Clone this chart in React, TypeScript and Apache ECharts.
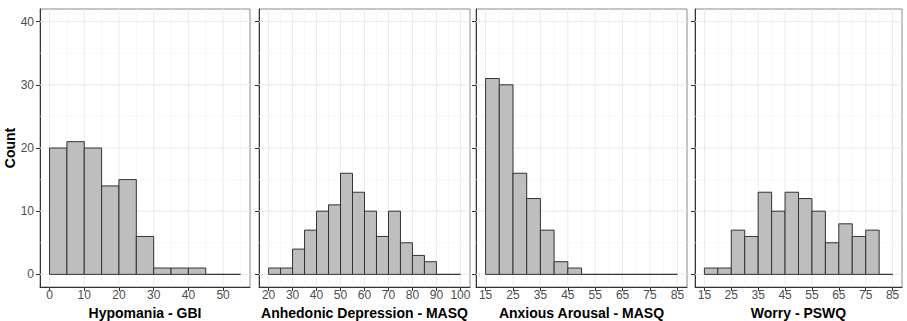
import React, { useEffect, useRef } from "react";
import * as echarts from "echarts";

// Histogram bin counts (bin width 5)
const binWidth = 5;
const hypoStart = 0;
const hypoCounts = [20, 21, 20, 14, 15, 6, 1, 1, 1, 0, 0];
const anhedStart = 20;
const anhedCounts = [1, 1, 4, 7, 10, 11, 16, 13, 10, 6, 10, 5, 3, 2, 0, 0];
const anxStart = 15;
const anxCounts = [31, 30, 16, 12, 7, 2, 1, 0, 0, 0, 0, 0, 0, 0];
const worryStart = 15;
const worryCounts = [1, 1, 7, 6, 13, 10, 13, 12, 10, 5, 8, 6, 7, 0];

// Tick labels
const countTicks = [0, 10, 20, 30, 40];
const hypoTicks = [0, 10, 20, 30, 40, 50];
const anhedTicks = [20, 30, 40, 50, 60, 70, 80, 90, 100];
const anxTicks = [15, 25, 35, 45, 55, 65, 75, 85];
const worryTicks = [15, 25, 35, 45, 55, 65, 75, 85];

const titles = [
  "Hypomania - GBI",
  "Anhedonic Depression - MASQ",
  "Anxious Arousal - MASQ",
  "Worry - PSWQ",
];

const panels = [
  { start: hypoStart, counts: hypoCounts, ticks: hypoTicks },
  { start: anhedStart, counts: anhedCounts, ticks: anhedTicks },
  { start: anxStart, counts: anxCounts, ticks: anxTicks },
  { start: worryStart, counts: worryCounts, ticks: worryTicks },
];

const gridBoxes = [
  { left: 40, width: 210 },
  { left: 259, width: 211 },
  { left: 476, width: 211 },
  { left: 695, width: 207 },
];

const FONT = "'Liberation Sans', Arial, sans-serif";

export default function App() {
  const ref = useRef<HTMLDivElement>(null);
  useEffect(() => {
    if (!ref.current) return;
    const chart = echarts.init(ref.current, null, { renderer: "svg" });

    const yLo = countTicks[0];
    const yHi = countTicks[countTicks.length - 1];
    const yPad = (yHi - yLo) * 0.05;
    const yMin = yLo - yPad;
    const yMax = yHi + yPad;

    const grids: any[] = [];
    const xAxes: any[] = [];
    const yAxes: any[] = [];
    const series: any[] = [];

    panels.forEach((p, i) => {
      const xLo = Math.min(p.start, p.ticks[0]);
      const xHi = Math.max(p.start + p.counts.length * binWidth, p.ticks[p.ticks.length - 1]);
      const xPad = (xHi - xLo) * 0.05;
      const xMin = xLo - xPad;
      const xMax = xHi + xPad;

      grids.push({
        left: gridBoxes[i].left,
        width: gridBoxes[i].width,
        top: 9,
        height: 278,
        show: true,
        borderColor: "#8a8a8a",
        borderWidth: 1,
        backgroundColor: "#fff",
        containLabel: false,
        outerBoundsMode: "none",
      });

      xAxes.push({
        gridIndex: i,
        type: "value",
        min: xMin,
        max: xMax,
        name: titles[i],
        nameLocation: "middle",
        nameGap: 12,
        nameTextStyle: { fontFamily: FONT, fontSize: 14, fontWeight: "bold", color: "#000" },
        axisLine: { show: true, onZero: false, lineStyle: { color: "#333", width: 1 } },
        axisTick: { show: true, length: 4, customValues: p.ticks, lineStyle: { color: "#333" } },
        axisLabel: {
          show: true,
          customValues: p.ticks,
          margin: 2,
          fontFamily: FONT,
          fontSize: 12,
          color: "#4d4d4d",
        },
        splitLine: { show: false },
      });

      yAxes.push({
        gridIndex: i,
        type: "value",
        min: yMin,
        max: yMax,
        name: i === 0 ? "Count" : "",
        nameLocation: "middle",
        nameGap: 14,
        nameTextStyle: { fontFamily: FONT, fontSize: 14, fontWeight: "bold", color: "#000" },
        axisLine: { show: true, onZero: false, lineStyle: { color: "#333", width: 1 } },
        axisTick: { show: true, length: 4, customValues: countTicks, lineStyle: { color: "#333" } },
        axisLabel: {
          show: i === 0,
          customValues: countTicks,
          margin: 6,
          fontFamily: FONT,
          fontSize: 12,
          color: "#4d4d4d",
        },
        splitLine: { show: false },
      });

      // grid lines: [value, kind(0=x,1=y), minor]
      const gl: number[][] = [];
      const xStep = p.ticks[1] - p.ticks[0];
      p.ticks.forEach((t) => gl.push([t, 0, 0]));
      for (let t = p.ticks[0] - xStep / 2; t <= xMax; t += xStep) {
        if (t >= xMin) gl.push([t, 0, 1]);
      }
      const yStep = countTicks[1] - countTicks[0];
      countTicks.forEach((t) => gl.push([t, 1, 0]));
      for (let t = countTicks[0] - yStep / 2; t <= yMax; t += yStep) {
        if (t >= yMin) gl.push([t, 1, 1]);
      }

      series.push({
        type: "custom",
        xAxisIndex: i,
        yAxisIndex: i,
        z: 1,
        silent: true,
        clip: false,
        data: gl,
        encode: { x: 0, y: 1 },
        renderItem: (params: any, api: any) => {
          const v = api.value(0);
          const kind = api.value(1);
          const minor = api.value(2);
          const cs = params.coordSys;
          const style = {
            stroke: minor ? "#f3f3f3" : "#ebebeb",
            lineWidth: minor ? 0.6 : 1,
          };
          if (kind === 0) {
            const x = api.coord([v, yMin])[0];
            return { type: "line", shape: { x1: x, y1: cs.y, x2: x, y2: cs.y + cs.height }, style };
          }
          const y = api.coord([xMin, v])[1];
          return { type: "line", shape: { x1: cs.x, y1: y, x2: cs.x + cs.width, y2: y }, style };
        },
      });

      const bars = p.counts.map((c, k) => [p.start + k * binWidth, c, p.start + (k + 1) * binWidth]);
      series.push({
        type: "custom",
        xAxisIndex: i,
        yAxisIndex: i,
        z: 3,
        clip: false,
        data: bars,
        encode: { x: 0, y: 1 },
        renderItem: (params: any, api: any) => {
          const x0 = api.value(0);
          const c = api.value(1);
          const x1 = api.value(2);
          const a = api.coord([x0, c]);
          const b = api.coord([x1, 0]);
          return {
            type: "polygon",
            shape: {
              points: [
                [a[0], b[1]],
                [a[0], a[1]],
                [b[0], a[1]],
                [b[0], b[1]],
              ],
            },
            style: { fill: "#bebebe", stroke: "#333", lineWidth: 1 },
          };
        },
      });
    });

    chart.setOption({
      animation: false,
      backgroundColor: "#fff",
      grid: grids,
      xAxis: xAxes,
      yAxis: yAxes,
      series,
    });
    return () => chart.dispose();
  }, []);

  return (
    <div
      ref={ref}
      style={{ position: "fixed", left: 0, top: 0, width: 907, height: 321 }}
    />
  );
}
